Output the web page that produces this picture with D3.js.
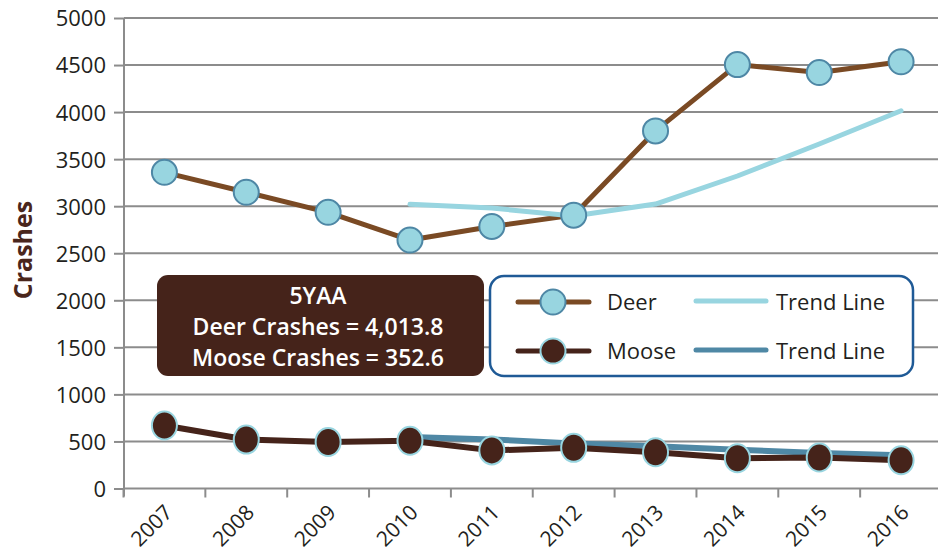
<!DOCTYPE html>
<html>
<head>
<meta charset="utf-8">
<script src="https://cdn.jsdelivr.net/npm/d3@7"></script>
<style>
  html, body { margin: 0; padding: 0; background: #fff; }
  svg { display: block; }
  text { font-family: "Open Sans", "Noto Sans", sans-serif; }
</style>
</head>
<body>
<svg id="chart" width="938" height="552"></svg>
<script>
// Wildlife-vehicle crashes by year
const years = ["2007", "2008", "2009", "2010", "2011", "2012", "2013", "2014", "2015", "2016"];
const deer = [3360, 3148, 2935, 2640, 2785, 2905, 3800, 4505, 4420, 4535];
const moose = [670, 520, 495, 508, 405, 432, 385, 322, 330, 300];
// Five-year average trend (starts 2010)
const deerTrend = [null, null, null, 3020, 2980, 2896, 3023, 3321, 3661, 4013.8];
const mooseTrend = [null, null, null, 548, 522, 478, 450, 412, 378, 352.6];
const yTicks = [0, 500, 1000, 1500, 2000, 2500, 3000, 3500, 4000, 4500, 5000];
const avgLines = ["5YAA", "Deer Crashes = 4,013.8", "Moose Crashes = 352.6"];

const C = {
  deerLine: "#7a4a24",
  deerFill: "#98d5e0",
  deerStroke: "#4e87a5",
  mooseLine: "#45231a",
  mooseStroke: "#98d5e0",
  deerTrend: "#98d5e0",
  mooseTrend: "#4f88a5",
  grid: "#8c8c8c",
  text: "#231f20",
  legendBorder: "#1f5a96"
};

const svg = d3.select("#chart");
const plotL = 124, plotR = 942, plotT = 18, plotB = 488.5;

const x = d3.scaleBand().domain(years).range([plotL - 0.5, plotR]).paddingInner(0).paddingOuter(0);
const y = d3.scaleLinear().domain([0, 5000]).range([plotB, plotT]);
const cx = d => x(d) + x.bandwidth() / 2;

// horizontal gridlines
svg.append("g").selectAll("line").data(yTicks).join("line")
  .attr("x1", plotL).attr("x2", 938)
  .attr("y1", d => y(d)).attr("y2", d => y(d))
  .attr("stroke", C.grid).attr("stroke-width", 2);

// y axis
const yAxis = svg.append("g").attr("transform", `translate(${plotL},0)`)
  .call(d3.axisLeft(y).tickValues(yTicks).tickSize(10).tickPadding(8).tickFormat(d3.format("d")));
yAxis.select(".domain").attr("d", `M0,${plotT}V${plotB + 8}`).attr("stroke", C.grid).attr("stroke-width", 2);
yAxis.selectAll(".tick line").attr("stroke", C.grid).attr("stroke-width", 2);
yAxis.selectAll(".tick text").attr("fill", C.text).style("font-size", "22px")
  .attr("dy", "0.36em");

// x axis: ticks at band boundaries, labels rotated
const xAxis = svg.append("g").attr("transform", `translate(0,${plotB})`)
  .call(d3.axisBottom(x).tickSize(9).tickPadding(6));
xAxis.select(".domain").remove();
xAxis.selectAll(".tick line")
  .attr("transform", `translate(${-x.bandwidth() / 2},0)`)
  .attr("stroke", C.grid).attr("stroke-width", 2);
xAxis.selectAll(".tick text")
  .attr("fill", C.text).style("font-size", "21px")
  .attr("text-anchor", "end")
  .attr("transform", "translate(4,20) rotate(-45)")
  .attr("x", 0).attr("y", 0).attr("dy", "0.35em");

// y axis title
svg.append("text")
  .attr("transform", "translate(32,250) rotate(-90)")
  .attr("text-anchor", "middle")
  .attr("fill", "#4a261c")
  .style("font-size", "25px").style("font-weight", 700)
  .text("Crashes");

const line = d3.line()
  .defined(d => d.v != null)
  .x(d => cx(d.k)).y(d => y(d.v));
const pts = arr => years.map((k, i) => ({ k, v: arr[i] }));

// moose trend line
svg.append("path").datum(pts(mooseTrend)).attr("d", line)
  .attr("fill", "none").attr("stroke", C.mooseTrend).attr("stroke-width", 6)
  .attr("stroke-linecap", "round").attr("stroke-linejoin", "round");

// moose series
svg.append("path").datum(pts(moose)).attr("d", line)
  .attr("fill", "none").attr("stroke", C.mooseLine).attr("stroke-width", 6)
  .attr("stroke-linejoin", "round");
svg.append("g").selectAll("ellipse").data(pts(moose)).join("ellipse")
  .attr("cx", d => cx(d.k)).attr("cy", d => y(d.v))
  .attr("rx", 12.5).attr("ry", 14)
  .attr("fill", C.mooseLine).attr("stroke", C.mooseStroke).attr("stroke-width", 2);

// deer series and trend
svg.append("path").datum(pts(deer)).attr("d", line)
  .attr("fill", "none").attr("stroke", C.deerLine).attr("stroke-width", 5)
  .attr("stroke-linejoin", "round");
svg.append("path").datum(pts(deerTrend)).attr("d", line)
  .attr("fill", "none").attr("stroke", C.deerTrend).attr("stroke-width", 5)
  .attr("stroke-linecap", "round").attr("stroke-linejoin", "round");
svg.append("g").selectAll("circle").data(pts(deer)).join("circle")
  .attr("cx", d => cx(d.k)).attr("cy", d => y(d.v)).attr("r", 12.5)
  .attr("fill", C.deerFill).attr("stroke", C.deerStroke).attr("stroke-width", 2);

// five-year average annotation
const ann = svg.append("g");
ann.append("rect").attr("x", 157).attr("y", 275).attr("width", 327).attr("height", 101)
  .attr("rx", 11).attr("fill", C.mooseLine);
ann.selectAll("text").data(avgLines).join("text")
  .attr("x", 318).attr("y", (d, i) => 304 + i * 31)
  .attr("text-anchor", "middle").attr("fill", "#fff")
  .style("font-size", "23px").style("font-weight", 600)
  .text(d => d);

// legend
const lg = svg.append("g");
lg.append("rect").attr("x", 490).attr("y", 276).attr("width", 423).attr("height", 100)
  .attr("rx", 14).attr("fill", "#fff").attr("stroke", C.legendBorder).attr("stroke-width", 2.5);
const legendRows = [
  { label: "Deer", line: C.deerLine, fill: C.deerFill, stroke: C.deerStroke, trend: C.deerTrend, yy: 302 },
  { label: "Moose", line: C.mooseLine, fill: C.mooseLine, stroke: C.mooseStroke, trend: C.mooseTrend, yy: 351 }
];
legendRows.forEach(r => {
  lg.append("line").attr("x1", 518).attr("x2", 589).attr("y1", r.yy).attr("y2", r.yy)
    .attr("stroke", r.line).attr("stroke-width", 5).attr("stroke-linecap", "round");
  lg.append("circle").attr("cx", 553).attr("cy", r.yy).attr("r", 12.5)
    .attr("fill", r.fill).attr("stroke", r.stroke).attr("stroke-width", 2);
  lg.append("text").attr("x", 607).attr("y", r.yy + 8).attr("fill", C.text)
    .style("font-size", "22px").text(r.label);
  lg.append("line").attr("x1", 696).attr("x2", 766).attr("y1", r.yy - 1).attr("y2", r.yy - 1)
    .attr("stroke", r.trend).attr("stroke-width", 5).attr("stroke-linecap", "round");
  lg.append("text").attr("x", 776).attr("y", r.yy + 8).attr("fill", C.text)
    .style("font-size", "22px").text("Trend Line");
});
</script>
</body>
</html>
